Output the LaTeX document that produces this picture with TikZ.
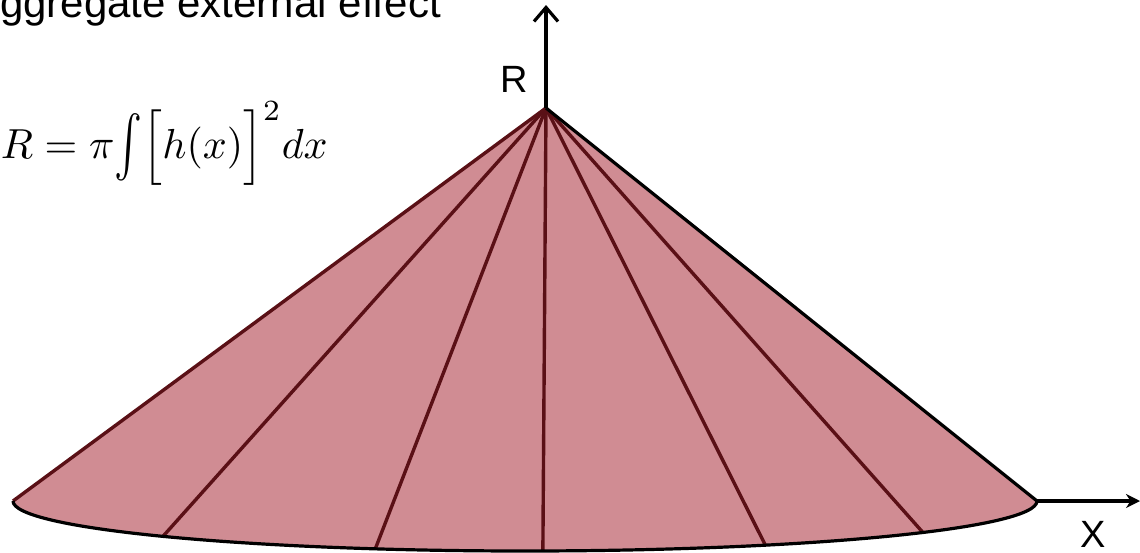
\documentclass[tikz,border=0pt]{standalone}
\usepackage{fontspec}
\usepackage{tikz}
\usetikzlibrary{arrows.meta,positioning,calc}
\newfontfamily\labelfont{Liberation Sans}
\definecolor{Ink}{HTML}{000000}
\definecolor{Cone}{HTML}{D08C93}
\definecolor{Rib}{HTML}{5A1016}
\newcommand{\tallint}{\vcenter{\hbox{\scalebox{1}[1.45]{$\int$}}}}
\tikzset{
  cone/.style={fill=Cone,draw=none},
  rib/.style={draw=Rib,line width=3.4pt},
  axis/.style={draw=Ink,line width=3.2pt},
  lbl/.style={font=\labelfont\fontsize{38}{40}\selectfont,text=Ink,inner sep=0pt},
}

\begin{document}
\begin{tikzpicture}[x=1pt,y=1pt]
 \useasboundingbox (0,0) rectangle (1140,-552);
 \coordinate (apex) at (546,-108);
 \coordinate (mid) at (525,-501);
 \coordinate (lft) at (13,-501);
 \coordinate (rgt) at (1037,-501);
 \coordinate (rtop) at (546,-5);
 \coordinate (xend) at (1140,-501);
 % cone body
 \fill[cone] (apex) -- (lft) arc[start angle=180,end angle=360,x radius=512,y radius=50] -- cycle;
 \foreach \a/\n in {225/1,253/2,272/3,298/4,321/5}
   \coordinate (b\n) at ($(mid)+(\a:512 and 50)$);
 \foreach \n in {1,...,5}
   \draw[rib] (apex) -- (b\n);
 \draw[rib] (apex) -- (lft);
 \draw[axis] (apex) -- (rgt);
 \draw[axis] (lft) arc[start angle=180,end angle=360,x radius=512,y radius=50];
 % axes
 \draw[axis,-{Straight Barb[length=14pt,width=24pt]}] (apex) -- (rtop);
 \draw[axis,-{Stealth[length=14pt,width=14pt]}] (rgt) -- (xend);
 \node[lbl] (rlab) at (514,-79) {R};
 \node[lbl] (xlab) at (1093,-534) {X};
 \node[lbl,anchor=base west,font=\labelfont\fontsize{42}{44}\selectfont] (title) at (0,-17) {ggregate external effect};
 \node[anchor=base west,inner sep=0pt,scale=4.2] (formula) at (0,-158) {$R=\pi\tallint\Bigl[h(x)\Bigr]^{2}dx$};
\end{tikzpicture}
\end{document}
